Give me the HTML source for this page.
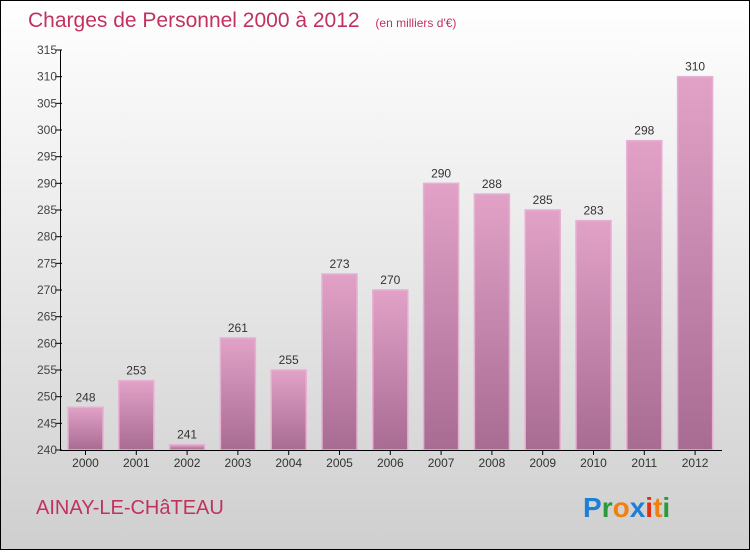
<!DOCTYPE html>
<html><head><meta charset="utf-8"><style>
html,body{margin:0;padding:0}
body{width:750px;height:550px;overflow:hidden;font-family:"Liberation Sans",sans-serif}
</style></head><body>
<svg width="750" height="550" xmlns="http://www.w3.org/2000/svg">
<defs>
<linearGradient id="bg" x1="0" y1="0" x2="0" y2="1"><stop offset="0" stop-color="#ffffff"/><stop offset="1" stop-color="#cfcfcf"/></linearGradient>
<linearGradient id="bar" x1="0" y1="0" x2="0" y2="1"><stop offset="0" stop-color="#e2a2c8"/><stop offset="1" stop-color="#a86b92"/></linearGradient>
</defs>
<rect x="0.5" y="0.5" width="749" height="549" fill="url(#bg)" stroke="#000"/>
<text x="28" y="27" font-size="21" fill="#c2325f">Charges de Personnel 2000 à 2012 <tspan font-size="12" dx="10">(en milliers d'€)</tspan></text>
<g id="plot"></g>
<text x="36" y="514" font-size="20" fill="#c2325f">AINAY-LE-CHâTEAU</text>
<g font-size="28" font-weight="bold" font-family="'Liberation Sans',sans-serif">
<text x="583" y="517" fill="#1e7fd6">P<tspan fill="#2a9a3a">r</tspan><tspan fill="#f08010">o</tspan><tspan fill="#1e7fd6">x</tspan><tspan fill="#e03010">i</tspan><tspan fill="#f08010">t</tspan><tspan fill="#2a9a3a">i</tspan></text>
</g>
</svg>
<script>
const years=["2000","2001","2002","2003","2004","2005","2006","2007","2008","2009","2010","2011","2012"];
const values=[248,253,241,261,255,273,270,290,288,285,283,298,310];
const yTicks=[240,245,250,255,260,265,270,275,280,285,290,295,300,305,310,315];
const NS="http://www.w3.org/2000/svg";
const g=document.getElementById('plot');
const y=v=>450-(v-240)*400/75;
const x=i=>85.5+i*50.8;
function mk(t,a){const e=document.createElementNS(NS,t);for(const k in a)e.setAttribute(k,a[k]);g.appendChild(e);return e;}
yTicks.forEach(v=>{
 const l=mk('line',{x1:55,x2:62,y1:y(v),y2:y(v),stroke:'#000'});
 
 
 const t=mk('text',{x:57,y:y(v)+4,'font-size':12,'text-anchor':'end',fill:'#444'});
 t.textContent=v;
 
 
});
years.forEach((yr,i)=>{
 const v=values[i];
 const r=mk('rect',{x:x(i)-17.5,y:y(v),width:35,height:450-y(v),fill:'url(#bar)',stroke:'#e6b0d0','stroke-width':1.5});
 
 
 const t=mk('text',{x:x(i),y:y(v)-6,'font-size':12,'text-anchor':'middle',fill:'#333'});
 t.textContent=v;
 
 
 const tk=mk('line',{x1:x(i),x2:x(i),y1:450,y2:455,stroke:'#000'});
 
 
 const xl=mk('text',{x:x(i),y:467,'font-size':12,'text-anchor':'middle',fill:'#333'});
 xl.textContent=yr;
 
 
});
const ya=mk('line',{x1:60.5,x2:60.5,y1:50,y2:450,stroke:'#000'});


const xa=mk('line',{x1:60,x2:722,y1:450.5,y2:450.5,stroke:'#000'});


</script>
</body></html>
